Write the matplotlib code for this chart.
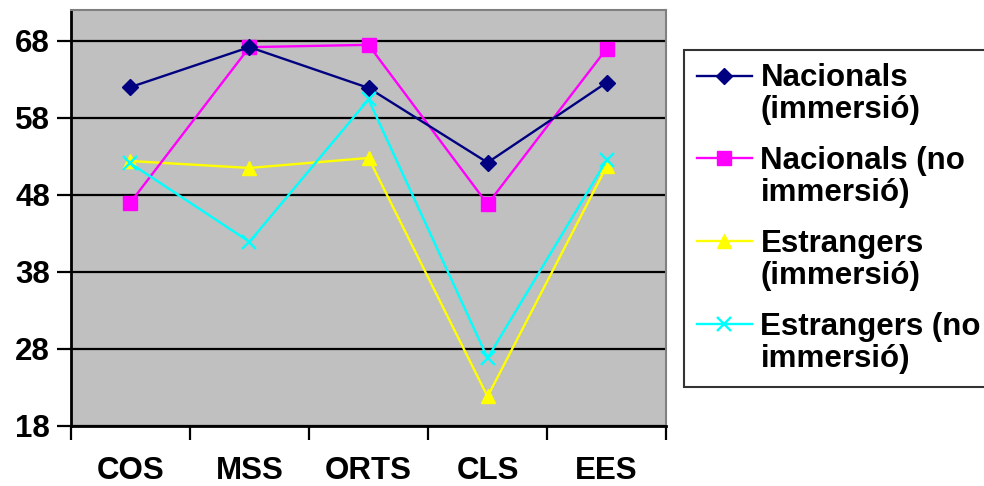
import matplotlib
matplotlib.use('Agg')
import matplotlib.pyplot as plt
import numpy as np

plt.rcParams['font.family'] = ['Liberation Sans', 'DejaVu Sans']
plt.rcParams['font.weight'] = 'bold'

# data
categories = ['COS', 'MSS', 'ORTS', 'CLS', 'EES']
nac_imm = [62.0, 67.2, 61.9, 52.2, 62.6]
nac_no_imm = [47.0, 67.2, 67.5, 46.8, 67.0]
est_imm = [52.4, 51.5, 52.8, 21.8, 51.7]
est_no_imm = [52.1, 41.9, 60.4, 26.8, 52.5]
series_labels = ['Nacionals\n(immersió)', 'Nacionals (no\nimmersió)',
                 'Estrangers\n(immersió)', 'Estrangers (no\nimmersió)']
yticks = [18, 28, 38, 48, 58, 68]

FS = 22.5

fig = plt.figure(figsize=(9.84, 4.86), dpi=100)
ax = fig.add_axes([0.072, 0.124, 0.605, 0.855])
ax.set_facecolor('#C0C0C0')

x = np.arange(len(categories))
ax.plot(x, nac_imm, color='#000080', lw=1.7, marker='D', ms=8, label=series_labels[0], zorder=5)
ax.plot(x, nac_no_imm, color='#FF00FF', lw=1.7, marker='s', ms=10, label=series_labels[1], zorder=4)
ax.plot(x, est_imm, color='#FFFF00', lw=1.7, marker='^', ms=10, label=series_labels[2], zorder=3)
ax.plot(x, est_no_imm, color='#00FFFF', lw=1.7, marker='x', ms=10, mew=1.7, label=series_labels[3], zorder=6)

ax.set_xlim(-0.5, 4.5)
ax.set_ylim(18, 72)
ax.set_yticks(yticks)
ax.set_yticklabels([str(v) for v in yticks], fontsize=FS, fontweight='bold')
ax.yaxis.grid(True, color='black', lw=1.6)
ax.set_axisbelow(True)

ax.set_xticks(x)
ax.set_xticklabels(categories, fontsize=FS, fontweight='bold')
ax.set_xticks(np.arange(-0.5, 5, 1), minor=True)
ax.tick_params(axis='x', which='major', length=0, pad=22)
ax.tick_params(axis='x', which='minor', length=10, width=1.6, direction='out')
ax.tick_params(axis='y', length=10, width=1.6, direction='out', pad=5)

for s in ['left', 'bottom']:
    ax.spines[s].set_color('black')
    ax.spines[s].set_linewidth(2)
for s in ['top', 'right']:
    ax.spines[s].set_color('#808080')
    ax.spines[s].set_linewidth(1.5)

leg = fig.legend(loc='upper left', bbox_to_anchor=(0.695, 0.897),
                 prop={'weight': 'bold', 'size': FS}, frameon=True, fancybox=False,
                 edgecolor='black', handlelength=1.75, handletextpad=0.28,
                 labelspacing=0.66, borderpad=0.42, borderaxespad=0, handleheight=1.0)
leg.get_frame().set_linewidth(1.5)
for t in leg.get_texts():
    t.set_linespacing(1.1)
for col in leg._legend_handle_box.get_children():
    for row in col.get_children():
        row.align = 'top'

fig.savefig('out.png', dpi=100)
